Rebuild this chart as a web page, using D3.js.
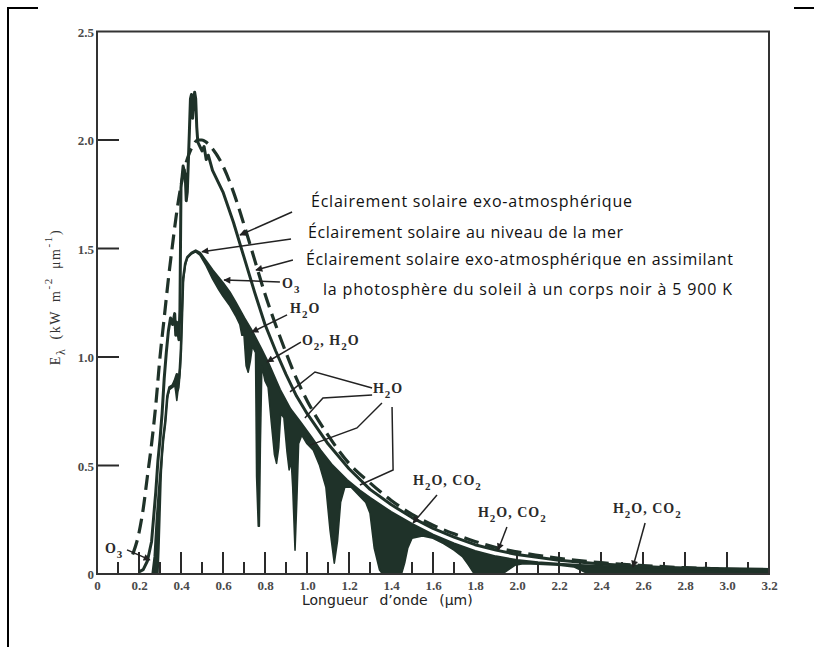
<!DOCTYPE html>
<html>
<head>
<meta charset="utf-8">
<script src="https://cdn.jsdelivr.net/npm/d3@7"></script>
<style>
body { margin: 0; background: #fff; }
</style>
</head>
<body>
<div id="chart"></div>
<script>
// tick values
var xMajor = [0, 0.2, 0.4, 0.6, 0.8, 1.0, 1.2, 1.4, 1.6, 1.8, 2.0, 2.2, 2.4, 2.6, 2.8, 3.0, 3.2];
var xMinor = [0.1, 0.3, 0.5, 0.7, 0.9, 1.1, 1.3, 1.5, 1.7, 1.9, 2.1, 2.3, 2.5, 2.7, 2.9, 3.1];
var yMajor = [0, 0.5, 1.0, 1.5, 2.0, 2.5];

// corps noir 5 900 K (tirets) [lambda µm, E kW m-2 µm-1]
var blackBody = [[0.17,0.09],[0.20,0.19],[0.22,0.30],[0.24,0.45],[0.26,0.60],[0.28,0.78],[0.30,1.00],
  [0.32,1.18],[0.34,1.36],[0.36,1.52],[0.38,1.67],[0.40,1.79],[0.42,1.88],[0.44,1.94],[0.46,1.98],
  [0.48,2.00],[0.50,2.00],[0.52,1.99],[0.55,1.96],[0.60,1.88],[0.65,1.76],[0.70,1.61],[0.75,1.45],
  [0.80,1.29],[0.85,1.15],[0.90,1.02],[0.95,0.90],[1.00,0.80],[1.10,0.64],[1.20,0.51],[1.30,0.42],
  [1.40,0.34],[1.50,0.275],[1.60,0.225],[1.70,0.185],[1.80,0.150],[1.90,0.122],[2.00,0.102],
  [2.20,0.072],[2.40,0.052],[2.60,0.039],[2.80,0.029],[3.00,0.022],[3.20,0.017]];

// eclairement exo-atmospherique
var exoAtmo = [[0.20,0.01],[0.22,0.02],[0.24,0.06],[0.26,0.15],[0.28,0.38],[0.29,0.52],[0.30,0.62],
  [0.31,0.74],[0.32,0.90],[0.33,1.02],[0.34,1.12],[0.35,1.18],[0.36,1.15],[0.37,1.20],[0.375,1.10],
  [0.38,1.16],[0.39,1.08],[0.395,1.22],[0.40,1.78],[0.41,1.88],[0.42,1.84],[0.425,1.72],[0.43,1.76],
  [0.44,2.04],[0.445,2.19],[0.45,2.21],[0.455,2.10],[0.46,2.17],[0.465,2.22],[0.47,2.19],[0.475,2.06],
  [0.48,1.99],[0.49,1.97],[0.50,1.95],[0.51,1.97],[0.52,1.91],[0.53,1.93],[0.55,1.86],[0.60,1.76],
  [0.65,1.62],[0.70,1.46],[0.75,1.30],[0.80,1.15],[0.85,1.03],[0.90,0.92],[0.95,0.82],[1.00,0.74],
  [1.10,0.60],[1.20,0.485],[1.30,0.39],[1.40,0.32],[1.50,0.26],[1.60,0.21],[1.70,0.17],[1.80,0.135],
  [1.90,0.11],[2.00,0.09],[2.20,0.063],[2.40,0.046],[2.60,0.034],[2.80,0.025],[3.00,0.019],[3.20,0.015]];

// niveau de la mer, enveloppe (haut des zones d'absorption)
var seaTop = [[0.265,0.0],[0.275,0.08],[0.285,0.25],[0.295,0.38],[0.305,0.50],[0.315,0.62],[0.325,0.70],
  [0.33,0.76],[0.335,0.82],[0.345,0.86],[0.36,0.87],[0.37,0.89],[0.38,0.92],[0.39,0.90],[0.395,0.95],
  [0.40,1.04],[0.405,1.20],[0.41,1.36],[0.42,1.43],[0.43,1.46],[0.45,1.48],[0.47,1.49],[0.49,1.48],
  [0.52,1.44],[0.55,1.40],[0.60,1.34],[0.63,1.30],[0.66,1.25],[0.70,1.18],[0.737,1.12],[0.78,1.04],
  [0.816,0.97],[0.87,0.85],[0.92,0.76],[0.967,0.70],[1.02,0.63],[1.062,0.571],[1.12,0.50],[1.189,0.433],
  [1.25,0.385],[1.30,0.35],[1.40,0.285],[1.50,0.23],[1.60,0.18],[1.70,0.14],[1.80,0.105],[1.90,0.08],
  [2.00,0.063],[2.10,0.053],[2.20,0.046],[2.30,0.040],[2.40,0.036],[2.60,0.031],[2.80,0.028],
  [3.00,0.025],[3.20,0.022]];

// eclairement au niveau de la mer (bas des zones d'absorption)
var seaLevel = [[0.29,0.0],[0.295,0.12],[0.30,0.28],[0.305,0.44],[0.31,0.55],[0.315,0.61],[0.325,0.70],
  [0.33,0.76],[0.335,0.81],[0.345,0.85],[0.36,0.86],[0.37,0.87],[0.375,0.84],[0.38,0.80],[0.385,0.84],
  [0.39,0.86],[0.395,0.92],[0.40,1.02],[0.405,1.18],[0.41,1.34],[0.42,1.42],[0.43,1.455],[0.45,1.475],
  [0.47,1.485],[0.49,1.47],[0.52,1.42],[0.55,1.36],[0.58,1.31],[0.60,1.28],[0.63,1.24],[0.66,1.19],
  [0.68,1.15],[0.69,1.10],[0.70,1.10],[0.71,0.96],[0.72,0.93],[0.73,0.98],[0.74,1.05],[0.755,1.02],
  [0.76,0.45],[0.768,0.22],[0.773,0.22],[0.778,0.60],[0.785,0.96],[0.80,0.89],[0.815,0.86],[0.83,0.70],
  [0.845,0.55],[0.855,0.51],[0.865,0.58],[0.875,0.74],[0.89,0.72],[0.905,0.56],[0.915,0.48],
  [0.925,0.52],[0.932,0.40],[0.943,0.11],[0.952,0.35],[0.96,0.60],[0.975,0.64],[1.00,0.60],
  [1.03,0.57],[1.06,0.50],[1.09,0.40],[1.11,0.20],[1.13,0.05],[1.145,0.15],[1.16,0.33],[1.18,0.40],
  [1.21,0.40],[1.25,0.36],[1.28,0.33],[1.30,0.28],[1.32,0.12],[1.345,0.02],[1.36,0.0],[1.45,0.0],
  [1.465,0.05],[1.48,0.12],[1.50,0.165],[1.55,0.175],[1.60,0.165],[1.65,0.14],[1.70,0.11],[1.74,0.08],
  [1.77,0.04],[1.79,0.01],[1.80,0.0],[1.93,0.0],[1.96,0.02],[1.99,0.04],[2.03,0.047],[2.10,0.045],
  [2.20,0.040],[2.27,0.033],[2.31,0.015],[2.34,0.0],[3.20,0.0]];

// legende (texte, position en unites du graphique)
var legendLines = [
  {t: "Éclairement solaire exo-atmosphérique", x: 1.019, y: 1.691, w: 321},
  {t: "Éclairement solaire au niveau de la mer", x: 1.005, y: 1.548, w: 315},
  {t: "Éclairement solaire exo-atmosphérique en assimilant", x: 0.995, y: 1.424, w: 427},
  {t: "la photosphère du soleil à un corps noir à 5 900 K", x: 1.076, y: 1.286, w: 409}];

// etiquettes des absorbants : morceaux [texte, indice ?]
var gasLabels = [
  {parts: [["O",0],["3",1]], x: 0.038, y: 0.097},
  {parts: [["O",0],["3",1]], x: 0.881, y: 1.318},
  {parts: [["H",0],["2",1],["O",0]], x: 0.919, y: 1.203},
  {parts: [["O",0],["2",1],[", H",0],["2",1],["O",0]], x: 0.976, y: 1.055},
  {parts: [["H",0],["2",1],["O",0]], x: 1.314, y: 0.834},
  {parts: [["H",0],["2",1],["O, CO",0],["2",1]], x: 1.505, y: 0.410},
  {parts: [["H",0],["2",1],["O, CO",0],["2",1]], x: 1.814, y: 0.263},
  {parts: [["H",0],["2",1],["O, CO",0],["2",1]], x: 2.457, y: 0.281}];

// traits de rappel avec fleche
var arrows = [
  [[0.929,1.668],[0.681,1.562]],
  [[0.924,1.544],[0.500,1.485]],
  [[0.933,1.447],[0.757,1.401]],
  [[0.871,1.346],[0.605,1.355]],
  [[0.905,1.194],[0.738,1.115]],
  [[0.971,1.069],[0.810,0.977]],
  [[1.619,0.364],[1.505,0.235]],
  [[1.952,0.217],[1.910,0.111]],
  [[2.610,0.235],[2.552,0.032]],
  [[0.143,0.111],[0.252,0.065]]];

// traits de rappel sans fleche (groupe H2O)
var leaders = [
  [[1.310,0.857],[1.038,0.931],[0.919,0.839]],
  [[1.310,0.825],[1.076,0.811],[0.990,0.719]],
  [[1.357,0.788],[1.238,0.673],[1.014,0.594]],
  [[1.405,0.770],[1.410,0.479],[1.252,0.410]]];

var ink = "#1f3229";

var svg = d3.select("#chart").append("svg")
  .attr("width", 814)
  .attr("height", 647);

var x = d3.scaleLinear().domain([0, 3.2]).range([97, 769]);
var y = d3.scaleLinear().domain([0, 2.5]).range([574, 31.5]);

// cadre de la page
svg.append("path")
  .attr("d", "M8,647 V8 H38 M794,8 H814")
  .attr("fill", "none")
  .attr("stroke", "#000")
  .attr("stroke-width", 2);

var defs = svg.append("defs");
defs.append("marker")
  .attr("id", "arrow")
  .attr("viewBox", "0 0 10 10")
  .attr("refX", 9).attr("refY", 5)
  .attr("markerWidth", 9).attr("markerHeight", 7)
  .attr("markerUnits", "userSpaceOnUse")
  .attr("orient", "auto")
  .append("path")
  .attr("d", "M0,0 L10,5 L0,10 Z")
  .attr("fill", "#222");

defs.append("clipPath").attr("id", "plotClip")
  .append("rect")
  .attr("x", x(0)).attr("y", y(2.5))
  .attr("width", x(3.2) - x(0)).attr("height", y(0) - y(2.5));

// libelles des axes
var xAxis = d3.axisBottom(x)
  .tickValues(xMajor)
  .tickSize(0)
  .tickPadding(7)
  .tickFormat(function (d) { return d === 0 ? "0" : d3.format(".1f")(d); });

var yAxis = d3.axisLeft(y)
  .tickValues(yMajor)
  .tickSize(0)
  .tickPadding(3)
  .tickFormat(function (d) { return d === 0 ? "0" : d3.format(".1f")(d); });

var gx = svg.append("g").attr("transform", "translate(0," + y(0) + ")").call(xAxis);
var gy = svg.append("g").attr("transform", "translate(" + x(0) + ",0)").call(yAxis);

[gx, gy].forEach(function (g) {
  g.select(".domain").remove();
  g.selectAll(".tick line").remove();
  g.selectAll(".tick text")
    .attr("fill", "#4a4a4a")
    .style("font-family", "'Liberation Serif', serif")
    .style("font-weight", "bold")
    .style("font-size", "13px");
});
gy.selectAll(".tick text").attr("dy", "0.36em");

// graduations, tournees vers l'interieur
var ticks = svg.append("g").attr("class", "ticks");
ticks.selectAll(".xmajor")
  .data(xMajor.slice(1, -1))
  .enter()
  .append("line")
  .attr("class", "xmajor")
  .attr("x1", function (d) { return x(d); })
  .attr("x2", function (d) { return x(d); })
  .attr("y1", y(0))
  .attr("y2", y(0) - 22);
ticks.selectAll(".xminor")
  .data(xMinor)
  .enter()
  .append("line")
  .attr("class", "xminor")
  .attr("x1", function (d) { return x(d); })
  .attr("x2", function (d) { return x(d); })
  .attr("y1", y(0))
  .attr("y2", y(0) - 12);
ticks.selectAll(".ymajor")
  .data(yMajor.slice(1, -1))
  .enter()
  .append("line")
  .attr("class", "ymajor")
  .attr("x1", x(0))
  .attr("x2", x(0) + 22)
  .attr("y1", function (d) { return y(d); })
  .attr("y2", function (d) { return y(d); });
ticks.selectAll("line")
  .attr("stroke", "#2a2a2a")
  .attr("stroke-width", 2);

// zones d'absorption : sous l'enveloppe, au-dessus de la courbe niveau de la mer
var mask = defs.append("mask").attr("id", "seaMask");
mask.append("rect").attr("width", 814).attr("height", 647).attr("fill", "white");
mask.append("path")
  .datum(seaLevel)
  .attr("d", d3.area().x(function (d) { return x(d[0]); }).y0(y(0)).y1(function (d) { return y(d[1]); }))
  .attr("fill", "black");

var plot = svg.append("g").attr("clip-path", "url(#plotClip)");

plot.append("path")
  .datum(seaTop)
  .attr("d", d3.area().x(function (d) { return x(d[0]); }).y0(y(0)).y1(function (d) { return y(d[1]); }))
  .attr("fill", ink)
  .attr("mask", "url(#seaMask)");

var line = d3.line()
  .x(function (d) { return x(d[0]); })
  .y(function (d) { return y(d[1]); });

plot.append("path")
  .datum(seaLevel)
  .attr("d", line)
  .attr("fill", "none")
  .attr("stroke", ink)
  .attr("stroke-width", 1.6)
  .attr("stroke-linejoin", "round");

plot.append("path")
  .datum(seaTop)
  .attr("d", line)
  .attr("fill", "none")
  .attr("stroke", ink)
  .attr("stroke-width", 2.6)
  .attr("stroke-linejoin", "round");

plot.append("path")
  .datum(exoAtmo)
  .attr("d", line)
  .attr("fill", "none")
  .attr("stroke", ink)
  .attr("stroke-width", 3)
  .attr("stroke-linejoin", "round");

plot.append("path")
  .datum(blackBody)
  .attr("d", line.curve(d3.curveMonotoneX))
  .attr("fill", "none")
  .attr("stroke", ink)
  .attr("stroke-width", 3.2)
  .attr("stroke-dasharray", "15,7");

// cadre du graphique
svg.append("rect")
  .attr("x", x(0)).attr("y", y(2.5))
  .attr("width", x(3.2) - x(0)).attr("height", y(0) - y(2.5))
  .attr("fill", "none")
  .attr("stroke", "#333")
  .attr("stroke-width", 2);

// traits de rappel
var straight = d3.line()
  .x(function (d) { return x(d[0]); })
  .y(function (d) { return y(d[1]); });

svg.selectAll(".arrow")
  .data(arrows)
  .enter()
  .append("path")
  .attr("class", "arrow")
  .attr("d", straight)
  .attr("fill", "none")
  .attr("stroke", "#222")
  .attr("stroke-width", 1.5)
  .attr("marker-end", "url(#arrow)");

svg.selectAll(".leader")
  .data(leaders)
  .enter()
  .append("path")
  .attr("class", "leader")
  .attr("d", straight)
  .attr("fill", "none")
  .attr("stroke", "#222")
  .attr("stroke-width", 1.5);

// etiquettes des gaz
var gas = svg.selectAll(".gas")
  .data(gasLabels)
  .enter()
  .append("text")
  .attr("class", "gas")
  .attr("x", function (d) { return x(d.x); })
  .attr("y", function (d) { return y(d.y); })
  .attr("fill", "#2a2a2a")
  .style("font-family", "'Liberation Serif', serif")
  .style("font-weight", "bold")
  .style("font-size", "14px")
  .style("letter-spacing", "1px");

gas.each(function (d) {
  var t = d3.select(this);
  d.parts.forEach(function (p) {
    var ts = t.append("tspan").text(p[0]);
    if (p[1]) {
      ts.attr("dy", 5).style("font-size", "11px");
    } else if (t.selectAll("tspan").size() > 1) {
      ts.attr("dy", -5);
    }
  });
});

// legende
svg.selectAll(".legend")
  .data(legendLines)
  .enter()
  .append("text")
  .attr("class", "legend")
  .attr("x", function (d) { return x(d.x); })
  .attr("y", function (d) { return y(d.y); })
  .attr("textLength", function (d) { return d.w; })
  .attr("lengthAdjust", "spacing")
  .attr("fill", "#111")
  .style("font-family", "'Open Sans', sans-serif")
  .style("font-size", "16px")
  .text(function (d) { return d.t; });

// titre de l'axe des y
var yt = svg.append("text")
  .attr("transform", "translate(60,297) rotate(-90)")
  .attr("text-anchor", "middle")
  .attr("fill", "#333")
  .style("font-family", "'Liberation Serif', serif")
  .style("font-size", "14px")
  .style("letter-spacing", "1.6px")
  .style("word-spacing", "3px");
yt.append("tspan").text("E");
yt.append("tspan").attr("dy", 5).style("font-size", "12px").text("λ");
yt.append("tspan").attr("dy", -5).text(" (kW m");
yt.append("tspan").attr("dy", -8).style("font-size", "11px").text("-2");
yt.append("tspan").attr("dy", 8).text(" μm");
yt.append("tspan").attr("dy", -8).style("font-size", "11px").text("-1");
yt.append("tspan").attr("dy", 8).text(")");

// titre de l'axe des x
svg.append("text")
  .attr("x", 302)
  .attr("y", 605)
  .attr("fill", "#222")
  .style("font-family", "'DejaVu Sans', sans-serif")
  .style("font-size", "14px")
  .style("word-spacing", "7px")
  .text("Longueur d’onde (μm)");
</script>
</body>
</html>
